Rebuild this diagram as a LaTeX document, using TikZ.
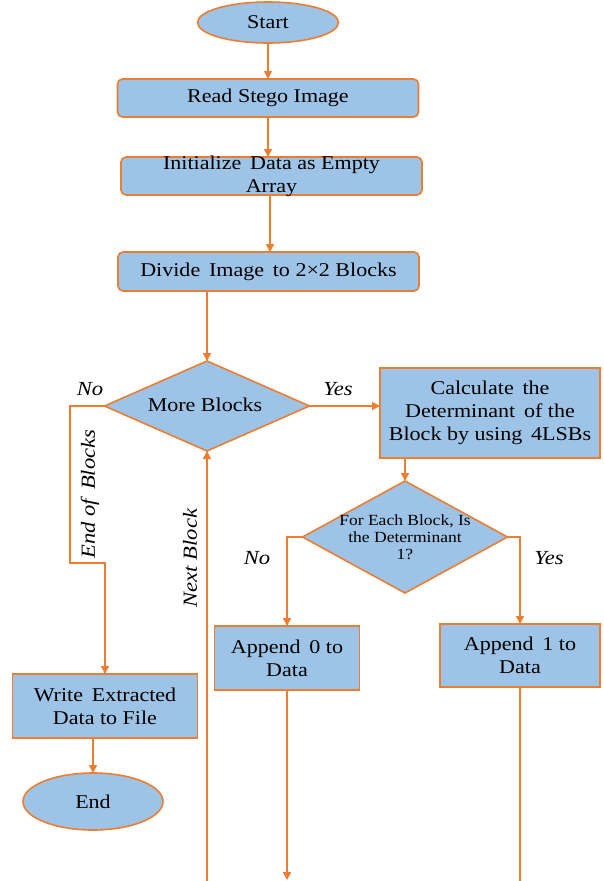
\documentclass[tikz,border=0pt]{standalone}
\usepackage{fontspec}
\setmainfont{Liberation Serif}[FakeStretch=1.13]
\usetikzlibrary{shapes.geometric,arrows.meta}
\definecolor{boxblue}{HTML}{9DC3E6}
\definecolor{lineorange}{HTML}{ED7D31}
\begin{document}
\begin{tikzpicture}[x=1pt,y=-1pt,
  every node/.style={inner sep=0pt, outer sep=0pt},
  fillshape/.style={draw=lineorange, fill=boxblue, line width=1.6pt},
  bigtext/.style={font=\fontsize{19.5}{23}\selectfont, align=center},
  smalltext/.style={font=\fontsize{15.5}{17}\selectfont, align=center},
  lbl/.style={font=\fontsize{20}{23}\selectfont\itshape},
  procbox/.style={fillshape, rectangle, bigtext},
  roundbox/.style={procbox, rounded corners=5pt},
  termshape/.style={fillshape, ellipse, bigtext},
  decshape/.style={fillshape, diamond, bigtext},
  conn/.style={draw=lineorange, line width=1.6pt},
  arr/.style={conn, -{Triangle[length=8pt,width=8pt]}}
]
\useasboundingbox (0,0) rectangle (603,881);

% shapes
\node[termshape, minimum width=141pt, minimum height=41pt] (start) at (268,22.5) {Start};
\node[roundbox, minimum width=301pt, minimum height=38pt] (read) at (268,98) {Read Stego Image};
\node[roundbox, minimum width=301pt, minimum height=38pt] (init) at (271.5,176) {};
\node[bigtext] (initT) at (271.5,176.5) {Initialize\, Data as Empty\\Array};
\node[roundbox, minimum width=301pt, minimum height=39pt] (divide) at (268.5,271.5) {Divide\, Image\, to 2×2 Blocks};
\node[decshape, minimum width=205pt, minimum height=90pt] (dia1) at (207,406) {};
\node[bigtext] (dia1T) at (205,405) {More Blocks};
\node[procbox, minimum width=220pt, minimum height=90pt] (calc) at (490,413) {Calculate\, the\\Determinant\, of the\\Block by using\, 4LSBs};
\node[decshape, minimum width=205pt, minimum height=112pt] (dia2) at (405,537) {};
\node[smalltext] (dia2T) at (405,537) {For Each Block, Is\\the Determinant\\1?};
\node[procbox, minimum width=145pt, minimum height=64pt] (app0) at (287,658) {Append\, 0 to\\Data};
\node[procbox, minimum width=160pt, minimum height=63pt] (app1) at (520,655.5) {Append\, 1 to\\Data};
\node[procbox, minimum width=185pt, minimum height=64pt] (write) at (105,706) {Write\, Extracted\\Data to File};
\node[termshape, minimum width=140pt, minimum height=57pt] (end) at (93,801.5) {End};

% free ends
\coordinate (nb) at (207,881);
\coordinate (out0) at (287,880);
\coordinate (out1) at (520,881);
\coordinate (nol) at (70,406);
\coordinate (nostep) at (70,563);

% connectors
\draw[arr] (start.south) -- (read.north -| start.south);
\draw[arr] (read.south) -- (read.south |- init.north);
\draw[arr] (270,195) -- (270,252) coordinate (divtop);
\draw[arr] (dia1.north |- divide.south) -- (dia1.north);
\draw[arr] (dia1.east) -- (dia1.east -| calc.west);
\draw[arr] (dia2.north |- calc.south) -- (dia2.north);
\draw[arr] (dia2.west) -| (app0.north);
\draw[arr] (dia2.east) -| (app1.north);
\draw[arr] (dia1.west) -- (nol) -- (nostep) -| (write.north);
\draw[arr] (end.north |- write.south) -- (end.north);
\draw[arr] (nb) -- (dia1.south);
\draw[arr] (app0.south) -- (out0);
\draw[conn] (app1.south) -- (out1);

% labels
\node[lbl] (lNo1) at (90,389) {No};
\node[lbl] (lYes1) at (338,389) {Yes};
\node[lbl, rotate=90] (lEnd) at (90,494) {End of\, Blocks};
\node[lbl, rotate=90] (lNext) at (190,558) {Next Block};
\node[lbl] (lNo2) at (257,558) {No};
\node[lbl] (lYes2) at (549,558) {Yes};
\end{tikzpicture}
\end{document}
